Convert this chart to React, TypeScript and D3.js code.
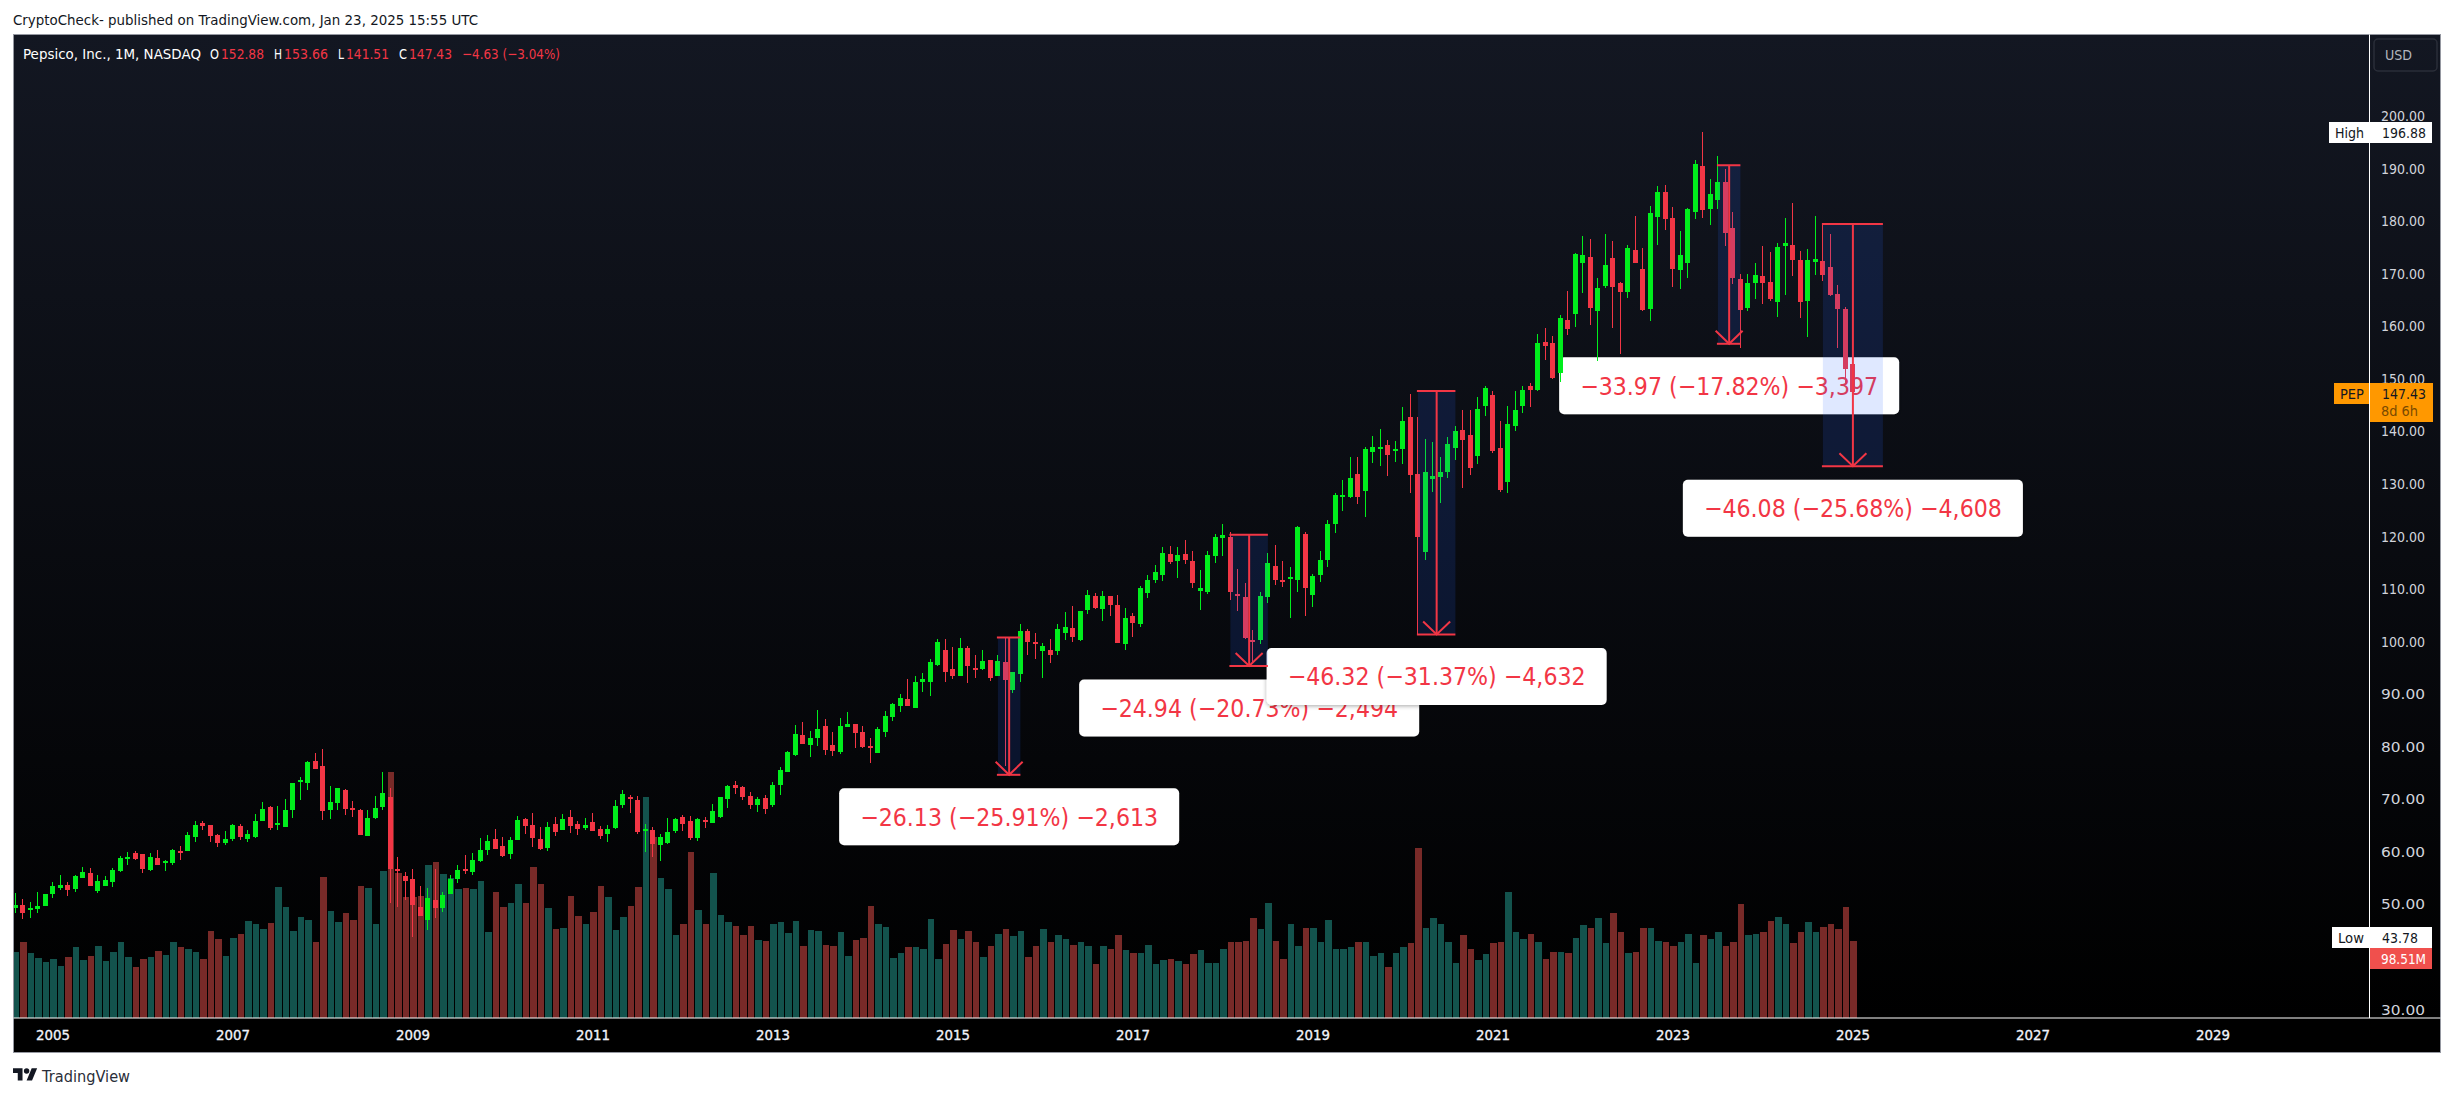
import React from "react";
import * as d3 from "d3";

const opens = [49.4,49.9,49.2,49.2,49.8,51.9,53.1,53.7,53.0,55.1,56.0,52.6,53.6,54.3,56.4,58.7,59.8,59.7,56.6,58.8,58.0,57.9,60.2,60.2,62.8,65.5,65.1,63.2,61.7,62.5,64.9,62.5,62.8,65.9,68.6,65.1,64.7,68.0,73.5,73.1,77.3,76.3,68.0,69.3,71.8,68.4,68.0,63.0,66.5,68.5,70.4,56.7,55.4,54.8,49.5,47.1,50.9,49.3,52.0,54.8,56.7,56.2,58.3,60.4,62.5,61.1,59.6,62.3,66.3,65.1,62.5,60.7,65.3,64.2,66.6,65.3,64.6,65.7,64.4,63.4,64.6,68.9,70.5,69.9,64.0,64.2,61.3,61.7,64.0,66.6,65.9,62.7,66.1,65.5,66.6,70.1,72.7,72.4,70.6,68.9,70.3,68.9,72.7,75.2,78.4,82.2,80.3,81.7,84.0,80.3,79.0,83.8,84.3,82.8,80.2,78.8,82.8,85.7,87.8,89.1,87.4,92.3,92.3,95.6,98.4,94.8,93.5,98.8,95.0,94.8,96.5,93.5,96.1,90.8,93.9,102.0,99.9,98.2,98.4,98.2,101.6,102.6,100.3,106.0,108.7,106.2,108.7,107.0,99.6,104.9,103.4,109.3,111.8,112.7,116.7,115.4,116.7,115.4,109.7,109.5,116.3,119.8,119.9,109.1,108.5,100.3,100.3,108.5,114.4,111.7,111.9,111.7,120.5,108.9,112.7,115.5,122.4,127.7,127.5,131.9,128.7,136.1,136.7,137.4,136.5,136.7,142.7,131.9,117.1,131.0,131.3,132.3,136.9,140.3,139.3,135.3,144.8,146.9,136.9,130.4,141.0,144.8,148.6,147.9,157.0,156.8,151.1,161.2,162.4,172.0,173.2,162.9,167.7,173.0,168.2,166.5,174.5,170.9,163.3,180.8,185.6,180.6,170.7,172.0,181.8,190.5,182.3,184.0,187.5,178.7,169.0,163.5,168.2,169.6,168.4,164.6,175.3,175.5,172.6,164.8,172.2,172.4,171.3,166.2,163.3,152.88];
const highs = [52.1,51.0,50.5,52.4,52.0,54.3,55.6,54.3,55.6,57.1,56.9,55.6,55.4,56.9,59.2,60.0,60.2,59.7,59.8,60.4,58.5,60.6,61.1,63.8,65.9,65.9,65.1,63.5,64.0,65.3,65.3,64.2,67.2,69.5,68.7,68.7,70.1,73.1,74.3,77.3,78.8,79.6,72.5,72.2,72.0,69.7,68.2,68.0,70.6,75.2,72.2,59.0,56.2,56.7,53.5,53.1,56.7,52.4,55.6,57.5,59.4,59.8,62.6,63.2,64.4,62.8,62.8,66.8,66.5,67.4,64.7,65.7,66.6,67.2,68.0,65.9,66.5,67.4,64.9,65.1,69.9,71.8,70.8,70.6,65.3,64.7,63.4,66.5,66.5,67.0,66.8,66.5,66.6,69.1,70.4,72.7,73.5,72.5,71.4,70.4,70.8,73.3,76.2,79.2,84.1,84.7,83.0,87.0,85.3,82.8,85.5,86.6,84.3,84.0,81.7,83.8,86.8,88.3,90.0,92.9,93.5,94.0,96.7,100.5,100.5,99.0,100.7,99.2,97.5,98.4,96.5,97.5,100.7,94.2,103.4,102.4,101.6,99.7,100.5,103.4,105.6,106.8,105.8,109.8,109.3,109.7,108.7,108.9,106.4,105.4,110.6,112.7,114.6,118.0,118.2,118.0,119.4,117.3,113.6,117.3,120.5,122.4,120.9,113.8,111.2,102.2,109.5,116.9,118.4,115.4,114.2,122.0,120.9,112.9,117.3,123.2,128.3,130.8,135.1,135.1,137.0,139.1,140.5,138.4,138.2,144.7,147.1,142.7,138.6,138.0,135.1,139.0,141.0,144.1,144.1,146.6,148.6,147.7,142.0,144.8,147.7,148.6,149.2,158.5,159.7,158.2,162.2,166.7,174.0,177.2,176.6,169.2,177.6,176.2,168.4,175.5,181.0,174.9,182.9,186.7,186.9,182.7,178.1,182.5,191.6,196.88,188.0,192.4,189.9,181.8,169.9,169.9,172.0,175.3,174.2,175.9,180.6,183.5,174.3,174.7,181.0,179.5,177.6,167.9,163.7,153.66];
const lows = [48.3,47.3,47.5,48.3,49.8,51.3,52.8,51.7,52.4,55.1,53.6,52.1,53.6,53.4,56.2,57.6,58.5,55.9,56.4,57.5,56.4,57.6,58.5,60.1,61.9,64.1,61.9,61.0,61.4,62.1,62.3,61.8,62.7,65.9,64.2,64.2,64.7,66.5,69.9,71.8,75.7,66.1,66.3,67.9,67.1,66.6,63.2,63.0,66.3,68.0,50.3,49.5,50.9,43.78,47.8,45.2,47.4,48.6,52.0,54.1,55.8,55.6,58.1,59.4,60.6,59.1,58.7,62.3,63.4,60.9,60.4,60.2,63.0,64.2,63.6,63.2,64.2,64.0,62.5,61.9,64.4,68.4,67.4,63.4,60.0,59.0,58.3,61.5,63.6,64.0,62.3,62.1,64.6,65.5,66.5,68.4,71.0,69.9,68.2,67.6,67.2,68.6,70.8,75.2,78.2,80.5,78.1,80.2,78.4,78.2,78.6,83.8,79.8,79.8,76.9,78.8,81.9,84.9,86.6,87.8,87.4,90.4,89.7,95.4,92.3,92.9,93.5,92.1,93.1,94.6,92.5,93.5,76.3,90.2,92.3,97.5,96.7,93.1,96.0,97.5,100.3,99.9,100.1,105.3,106.2,104.0,104.9,99.8,98.4,100.9,102.8,108.3,111.2,111.6,114.8,112.1,114.8,110.2,106.0,109.1,115.0,116.3,108.0,105.8,100.5,96.0,99.6,107.4,110.8,110.4,104.5,109.5,104.9,106.6,111.4,114.2,120.7,124.9,127.3,126.2,123.7,134.0,133.4,131.5,134.2,133.8,128.3,101.38,115.5,128.5,126.4,131.1,134.6,129.3,131.7,133.8,142.9,135.9,128.5,128.3,140.1,143.5,144.7,147.7,153.6,150.0,149.4,158.4,159.9,166.3,160.3,153.4,167.3,159.7,154.7,165.4,172.0,162.9,161.0,175.5,178.3,167.5,167.1,169.2,180.4,180.6,179.3,182.3,175.3,168.1,155.9,162.9,165.2,164.3,164.8,161.8,165.9,169.6,161.6,158.0,169.8,168.6,165.8,155.9,149.2,141.51];
const closes = [49.9,48.4,49.3,49.7,52.0,53.5,53.7,52.8,55.4,56.2,53.6,54.5,54.7,56.6,58.8,59.0,58.7,56.8,59.0,57.6,58.2,60.4,59.9,63.2,65.1,65.0,63.1,61.7,62.5,65.1,62.8,63.4,65.9,68.2,64.6,65.5,68.0,73.1,73.7,77.1,75.7,67.8,69.5,72.2,68.2,68.2,63.2,66.5,68.4,71.2,56.7,56.4,54.5,49.9,47.8,51.2,49.3,51.8,54.8,56.6,56.4,58.5,60.4,62.1,60.6,59.2,62.3,66.1,64.9,62.7,60.6,64.7,63.8,66.3,64.9,64.4,65.1,64.0,63.0,64.4,68.7,71.0,70.3,63.8,64.4,61.5,62.8,63.8,66.3,65.3,62.7,66.3,65.7,67.8,70.4,72.5,72.2,70.4,68.9,70.1,68.2,72.7,75.6,79.0,82.4,80.5,81.7,83.4,79.4,79.2,84.0,84.3,82.6,80.0,79.8,83.4,85.9,88.1,89.3,87.8,92.3,92.9,96.1,100.0,94.2,93.5,98.8,95.4,94.8,96.3,93.1,96.3,92.7,94.2,102.0,99.9,99.7,99.2,97.5,102.4,102.8,100.9,105.8,108.9,106.4,108.7,107.0,99.8,104.5,103.6,110.2,111.8,113.3,116.9,115.1,116.5,115.6,111.2,110.2,116.5,119.9,120.3,109.5,108.9,100.7,100.2,108.7,115.0,111.7,111.6,112.3,121.8,110.2,112.5,115.5,122.4,127.9,127.9,131.1,127.5,136.7,137.0,137.0,135.5,136.7,142.0,131.7,119.9,132.3,131.5,132.3,137.6,140.1,138.4,133.1,144.3,148.3,136.3,128.9,141.4,144.1,147.9,147.9,156.8,156.3,150.2,161.6,159.5,173.8,173.6,163.5,167.3,171.7,167.5,166.5,174.9,172.0,163.1,181.6,185.6,180.4,170.9,173.6,182.3,190.9,182.1,185.2,187.5,177.8,169.2,163.1,168.2,169.8,168.2,165.2,175.1,175.9,172.6,164.6,172.6,172.8,169.8,166.0,163.3,151.9,147.43];
const volumes = [84,97,83,76,71,75,66,78,90,74,79,92,72,84,96,78,64,75,78,85,80,97,90,88,84,75,111,101,79,102,107,124,120,113,121,167,142,111,129,125,96,180,136,122,134,125,168,166,120,188,314,185,154,154,156,195,199,184,179,165,166,165,175,110,161,142,147,171,147,193,171,140,113,115,156,130,119,135,168,154,112,129,143,167,282,231,179,165,106,120,212,138,120,185,131,122,117,106,117,99,98,120,122,108,124,92,112,111,93,92,110,79,99,102,143,119,116,76,83,90,90,87,126,75,94,112,101,111,96,78,92,107,113,104,111,77,92,113,97,105,101,93,97,92,68,91,88,106,86,83,82,93,69,73,75,72,68,81,86,70,70,88,97,97,98,127,113,147,98,75,120,91,115,115,97,125,87,88,90,97,96,79,83,65,83,90,95,217,115,127,120,96,70,105,88,74,81,95,96,161,110,101,107,96,75,84,84,82,102,118,115,127,95,134,109,83,84,114,115,98,97,92,97,107,70,106,101,110,92,96,145,105,107,110,124,128,119,95,109,122,110,116,120,113,142,98.51];

const priceTicks = [30,40,50,60,70,80,90,100,110,120,130,140,150,160,170,180,190,200];
const yearLabels = ["2005","2007","2009","2011","2013","2015","2017","2019","2021","2023","2025","2027","2029"];
const yearIndex = [5,29,53,77,101,125,149,173,197,221,245,269,293];

const measureLabels = ["−24.94 (−20.73%) −2,494","−46.32 (−31.37%) −4,632","−26.13 (−25.91%) −2,613","−33.97 (−17.82%) −3,397","−46.08 (−25.68%) −4,608"];
const measureStart = [162,187,131,227,241];
const measureEnd = [167,192,134,230,249];
const measureTop = [120.33,147.70,100.80,190.65,179.47];
const measureBottom = [95.39,101.38,74.67,156.68,133.39];

const W = 2454, H = 1097;
const RED = "#f23645", GREEN = "#00ee1c";
const FONT = "'DejaVu Sans', sans-serif";

const x = d3.scaleLinear().domain([0, 245]).range([15.4, 1852.9]);
const y = d3.scaleLinear().domain([30, 200]).range([1009.6, 116.1]);
const v = d3.scaleLinear().domain([0, 98.51]).range([1017.5, 940.5]);

function Txt({ x, y, w, size = 14.5, fill = "#d1d4dc", anchor = "start", sw = 0, children }: any) {
  return (
    <text x={x} y={y} fontSize={size} fill={fill} fontFamily={FONT} textAnchor={anchor}
      stroke={sw ? fill : undefined} strokeWidth={sw || undefined}
      textLength={w} lengthAdjust={w ? "spacingAndGlyphs" : undefined} dominantBaseline="central">
      {children}
    </text>
  );
}

export default function App() {
  const L = 13.5, T = 34.5, R = 2440.5, B = 1052.5, AX = 2369.5, BX = 1018;
  const order = [0, 1, 2, 3];
  const labelBox = (i: number) => {
    const cx = (x(measureStart[i]) + x(measureEnd[i])) / 2;
    return { cx, top: y(measureBottom[i]) + 13.5 };
  };
  return (
    <svg width={W} height={H} viewBox={`0 0 ${W} ${H}`} style={{ position: "absolute", left: 0, top: 0, background: "#fff" }}>
      <defs>
        <linearGradient id="bg" x1="0" y1="0" x2="0" y2="1">
          <stop offset="0" stopColor="#131722" />
          <stop offset="1" stopColor="#000000" />
        </linearGradient>
        <clipPath id="plot"><rect x={L} y={T} width={AX - L} height={BX - T} /></clipPath>
        <filter id="sh" x="-5%" y="-20%" width="110%" height="140%">
          <feDropShadow dx="0" dy="1" stdDeviation="2" floodColor="#000" floodOpacity="0.35" />
        </filter>
      </defs>

      <Txt x={13} y={20} w={465} fill="#131722">CryptoCheck- published on TradingView.com, Jan 23, 2025 15:55 UTC</Txt>

      <rect x={L} y={T} width={R - L} height={B - T} fill="#000" />
      <rect x={L} y={T} width={R - L} height={BX - T} fill="url(#bg)" />

      {/* volume */}
      <g clipPath="url(#plot)" shapeRendering="crispEdges">
        {volumes.map((d, i) => {
          const l = Math.round(x(i) - 3.75) + 1, r = Math.round(x(i) + 3.75);
          return <rect key={i} x={l} y={v(d)} width={r - l} height={v(0) - v(d)} fill={closes[i] >= opens[i] ? "#13534d" : "#782a28"} />;
        })}
      </g>

      {/* measure labels below the candles */}
      {order.map((i) => {
        const b = labelBox(i);
        return (
          <g key={i}>
            <rect x={b.cx - 170} y={b.top} width={340} height={57} rx={5} fill="#fff" filter="url(#sh)" />
            {i !== 3 && <Txt x={b.cx} y={b.top + 28.5} size={25.5} w={298} fill={RED} anchor="middle">{measureLabels[i]}</Txt>}
          </g>
        );
      })}

      {/* candles */}
      <g clipPath="url(#plot)" shapeRendering="crispEdges">
        {opens.map((o, i) => {
          const c = closes[i];
          const col = c >= o ? GREEN : RED;
          const cx = Math.round(x(i) - 0.5);
          const top = y(Math.max(o, c));
          const h = Math.max(2, Math.abs(y(o) - y(c)));
          return (
            <g key={i} fill={col}>
              <rect x={cx} y={y(highs[i])} width={1} height={y(lows[i]) - y(highs[i])} />
              <rect x={cx - 2} y={top} width={5} height={h} />
            </g>
          );
        })}
      </g>

      {(() => {
        const b = labelBox(3);
        return <Txt x={b.cx} y={b.top + 28.5} size={25.5} w={298} fill={RED} anchor="middle">{measureLabels[3]}</Txt>;
      })()}

      {/* measure tools */}
      {measureLabels.map((_, i) => {
        const x0 = x(measureStart[i]), x1 = x(measureEnd[i]);
        const cx = (x0 + x1) / 2, yt = y(measureTop[i]), yb = y(measureBottom[i]);
        return (
          <g key={i}>
            <rect x={x0} y={yt} width={x1 - x0} height={yb - yt} fill="#2962ff" fillOpacity={0.15} />
            <g stroke={RED} strokeWidth={2} fill="none">
              <line x1={x0 - 1} x2={x1} y1={yt} y2={yt} />
              <line x1={x0 - 1} x2={x1} y1={yb} y2={yb} />
              <line x1={cx} x2={cx} y1={yt} y2={yb} />
              <polyline points={`${cx - 13.5},${yb - 13} ${cx},${yb} ${cx + 13.5},${yb - 13}`} />
            </g>
          </g>
        );
      })}
      {(() => {
        const b = labelBox(4);
        return (
          <g>
            <rect x={b.cx - 170} y={b.top} width={340} height={57} rx={5} fill="#fff" filter="url(#sh)" />
            <Txt x={b.cx} y={b.top + 28.5} size={25.5} w={298} fill={RED} anchor="middle">{measureLabels[4]}</Txt>
          </g>
        );
      })()}

      {/* legend */}
      <Txt x={23} y={54} w={178} fill="#ffffff">Pepsico, Inc., 1M, NASDAQ</Txt>
      <Txt x={210} y={54} w={9} fill="#ffffff">O</Txt>
      <Txt x={221} y={54} w={43} fill={RED}>152.88</Txt>
      <Txt x={274} y={54} w={8} fill="#ffffff">H</Txt>
      <Txt x={284} y={54} w={44} fill={RED}>153.66</Txt>
      <Txt x={338} y={54} w={6} fill="#ffffff">L</Txt>
      <Txt x={346} y={54} w={43} fill={RED}>141.51</Txt>
      <Txt x={399} y={54} w={8} fill="#ffffff">C</Txt>
      <Txt x={409} y={54} w={43} fill={RED}>147.43</Txt>
      <Txt x={462} y={54} w={98} fill={RED}>−4.63 (−3.04%)</Txt>

      {/* axes */}
      {priceTicks.map((p) => (
        <Txt key={p} x={2381} y={y(p)} w={44} fill="#d1d4dc">{p.toFixed(2)}</Txt>
      ))}
      {yearLabels.map((s, i) => (
        <Txt key={s} x={x(yearIndex[i])} y={1035} w={34} fill="#f0f3fa" anchor="middle" sw={0.35}>{s}</Txt>
      ))}

      <rect x={2374} y={39} width={63} height={32} rx={4} fill="none" stroke="#2a2e39" strokeWidth={1.5} />
      <Txt x={2385} y={55} w={27} fill="#b2b5be">USD</Txt>

      <g shapeRendering="crispEdges">
        <rect x={2329} y={122} width={103} height={21} fill="#fff" />
        <rect x={2332} y={927} width={100} height={21} fill="#fff" />
        <rect x={2369} y={948} width={63} height={21} fill="#f0504d" />
        <rect x={2334} y={383} width={35} height={21} fill="#ff9800" />
        <rect x={2369} y={383} width={64} height={39} fill="#ff9800" />
      </g>
      <Txt x={2335} y={132.5} w={29} fill="#131722">High</Txt>
      <Txt x={2382} y={132.5} w={44} fill="#131722">196.88</Txt>
      <Txt x={2338} y={937.5} w={26} fill="#131722">Low</Txt>
      <Txt x={2382} y={937.5} w={36} fill="#131722">43.78</Txt>
      <Txt x={2381} y={958.5} w={45} fill="#ffffff">98.51M</Txt>
      <Txt x={2340} y={393.5} w={24} fill="#131722">PEP</Txt>
      <Txt x={2382} y={393.5} w={44} fill="#131722">147.43</Txt>
      <Txt x={2381} y={411} w={37} fill="#7a4a00">8d 6h</Txt>

      {/* frame */}
      <rect x={L} y={T} width={R - L} height={B - T} fill="none" stroke="#9598a1" strokeWidth={1} />
      <line x1={AX} x2={AX} y1={T} y2={BX} stroke="#ffffff" strokeWidth={1} />
      <line x1={L} x2={R} y1={BX} y2={BX} stroke="#ffffff" strokeWidth={1} />

      {/* footer logo */}
      <g transform="translate(13,1065.6) scale(0.68)" fill="#131722">
        <path d="M14 22H7V11H0V4h14v18zM28 22h-8l7.5-18h8L28 22z" />
        <circle cx="20" cy="8" r="4" />
      </g>
      <Txt x={42} y={1076} w={88} size={16} fill="#2a2e39">TradingView</Txt>
    </svg>
  );
}
